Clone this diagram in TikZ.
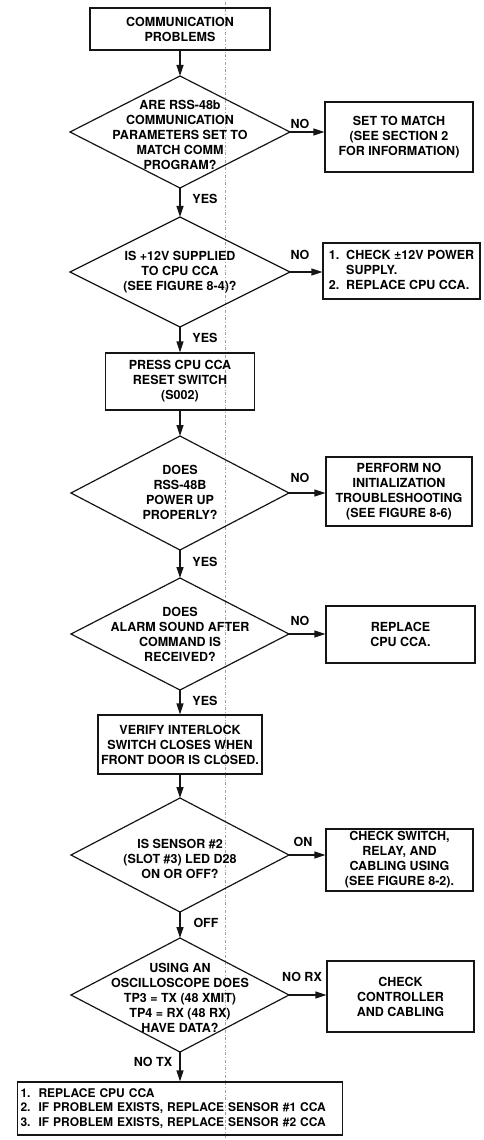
\documentclass[tikz,border=0pt]{standalone}
\usepackage{fontspec}
\setmainfont{TeX Gyre Heros}
\usetikzlibrary{shapes.geometric,arrows.meta}
\definecolor{ink}{HTML}{151515}
\definecolor{fold}{HTML}{A0A0A0}

\begin{document}
\begin{tikzpicture}[x=1pt,y=-1pt,line width=1.2pt,
  box/.style={draw=ink,align=center,inner sep=2pt,font=\bfseries\fontsize{12.5}{15}\selectfont},
  decision/.style={draw=ink,diamond,inner sep=0pt,outer sep=0pt},
  qtext/.style={align=center,inner sep=0pt,font=\bfseries\fontsize{12.5}{15}\selectfont},
  lbl/.style={inner sep=1pt,font=\bfseries\fontsize{12.5}{15}\selectfont},
  flow/.style={draw=ink,-{Triangle[length=11pt,width=7pt]}}]
\useasboundingbox (0,0) rectangle (484,1140);
\draw[fold,line width=.5pt,dash dot] (225,2)--(225,1138);
% main column
\node[box,minimum width=180pt,minimum height=42pt] (start) at (180,29) {COMMUNICATION\\PROBLEMS};
\node[decision,minimum width=220pt,minimum height=112pt] (d1) at (180,132) {};
\node[qtext] (t1) at (180,135) {ARE RSS-48b\\COMMUNICATION\\PARAMETERS SET TO\\MATCH COMM\\PROGRAM?};
\node[decision,minimum width=220pt,minimum height=110pt] (d2) at (180,272) {};
\node[qtext] (t2) at (180,272) {IS +12V SUPPLIED\\TO CPU CCA\\(SEE FIGURE 8-4)?};
\node[box,minimum width=149pt,minimum height=57pt] (reset) at (180,381.5) {PRESS CPU CCA\\RESET SWITCH\\(S002)};
\node[decision,minimum width=218pt,minimum height=114pt] (d3) at (180,493) {};
\node[qtext] (t3) at (180,492) {DOES\\RSS-48B\\POWER UP\\PROPERLY?};
\node[decision,minimum width=218pt,minimum height=112pt] (d4) at (180,634) {};
\node[qtext] (t4) at (180,634) {DOES\\ALARM SOUND AFTER\\COMMAND IS\\RECEIVED?};
\node[box,minimum width=164pt,minimum height=59pt] (lock) at (180,744.5) {VERIFY INTERLOCK\\SWITCH CLOSES WHEN\\FRONT DOOR IS CLOSED.};
\node[decision,minimum width=218pt,minimum height=114pt] (d5) at (180,855) {};
\node[qtext] (t5) at (180,859) {IS SENSOR \#2\\(SLOT \#3) LED D28\\ON OR OFF?};
\node[decision,minimum width=218pt,minimum height=114pt] (d6) at (180,995) {};
\node[qtext] (t6) at (180,998) {USING AN\\OSCILLOSCOPE DOES\\TP3 = TX (48 XMIT)\\TP4 = RX (48 RX)\\HAVE DATA?};
\node[box,align=left,minimum width=325pt,minimum height=53pt,text width=319pt,font=\bfseries\fontsize{12}{14.5}\selectfont] (last) at (180,1108.5) {1.\ \ REPLACE CPU CCA\\2.\ \ IF PROBLEM EXISTS, REPLACE SENSOR \#1 CCA\\3.\ \ IF PROBLEM EXISTS, REPLACE SENSOR \#2 CCA};
% right column
\node[box,minimum width=148pt,minimum height=70pt] (r1) at (399,137) {SET TO MATCH\\(SEE SECTION 2\\FOR INFORMATION)};
\node[box,minimum width=157pt,minimum height=56pt] (r2) at (401.5,271) {\begin{tabular}{@{}l@{\ \ }l@{}}1.&CHECK ±12V POWER\\&SUPPLY.\\2.&REPLACE CPU CCA.\end{tabular}};
\node[box,minimum width=146pt,minimum height=69pt] (r3) at (399,491.5) {PERFORM NO\\INITIALIZATION\\TROUBLESHOOTING\\(SEE FIGURE 8-6)};
\node[box,minimum width=149pt,minimum height=57pt] (r4) at (400.5,634.5) {REPLACE\\CPU CCA.};
\node[box,minimum width=147pt,minimum height=62pt] (r5) at (399.5,860) {CHECK SWITCH,\\RELAY, AND\\CABLING USING\\(SEE FIGURE 8-2).};
\node[box,minimum width=147pt,minimum height=71pt] (r6) at (400.5,996.5) {CHECK\\CONTROLLER\\AND CABLING};
% connectors
\draw[flow] (start)--(d1);\draw[flow] (d1)--(d2);\draw[flow] (d2)--(reset);\draw[flow] (reset)--(d3);
\draw[flow] (d3)--(d4);\draw[flow] (d4)--(lock);\draw[flow] (lock)--(d5);\draw[flow] (d5)--(d6);
\draw[flow] (d6.south)--(last.north);
\foreach \i in {1,...,6} \draw[flow] (d\i.east)--(d\i.east -| r\i.west);
% labels
\node[lbl] (y1) at (205,199) {YES};\node[lbl] (y2) at (205,338) {YES};
\node[lbl] (y3) at (205,562) {YES};\node[lbl] (y4) at (205,701) {YES};
\node[lbl] (n1) at (300,124) {NO};\node[lbl] (n2) at (300,255) {NO};
\node[lbl] (n3) at (300,478) {NO};\node[lbl] (n4) at (300,621) {NO};
\node[lbl] (on) at (303,842) {ON};\node[lbl] (off) at (206,923) {OFF};
\node[lbl] (nrx) at (302,977) {NO RX};\node[lbl] (ntx) at (153,1062) {NO TX};
\end{tikzpicture}
\end{document}
